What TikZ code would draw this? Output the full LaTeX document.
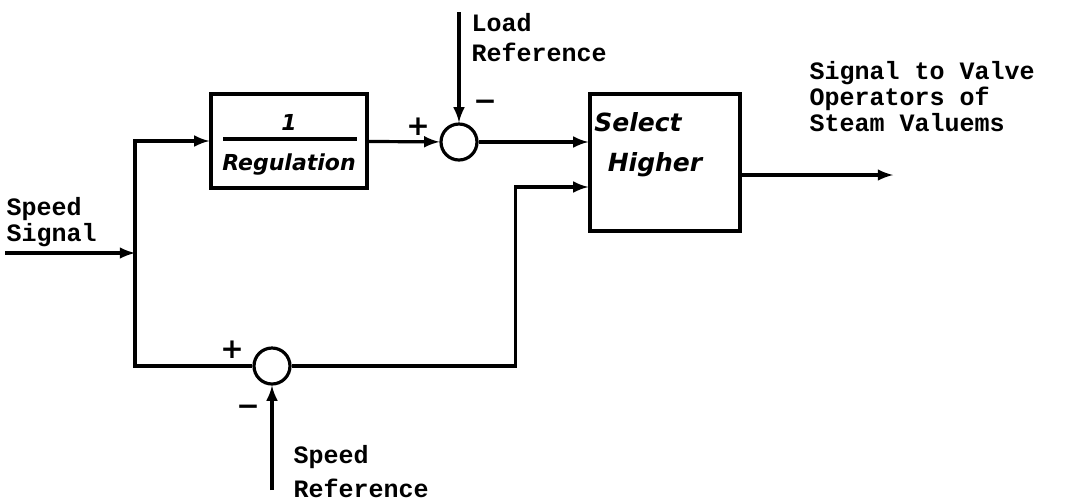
\documentclass[tikz,border=0pt]{standalone}
\usepackage{fontspec}
\setmonofont{Liberation Mono}
\newfontfamily\handfont{DejaVu Sans}
\usetikzlibrary{positioning}

\begin{document}
\begin{tikzpicture}[x=.5pt,y=-.5pt,>=latex,line width=1.6pt,
	blk/.style={draw,inner sep=0},
	sumpt/.style={draw,circle,minimum size=18pt,inner sep=0},
	txt/.style={font=\ttfamily\bfseries\fontsize{12.5}{13}\selectfont,align=left,anchor=north west,inner sep=0},
	hand/.style={font=\handfont\bfseries\itshape\fontsize{11}{13}\selectfont,inner sep=0},
	bighand/.style={hand,font=\handfont\bfseries\itshape\fontsize{12.5}{13}\selectfont},
	sgn/.style={font=\handfont\bfseries\fontsize{14}{14}\selectfont,inner sep=0}]
	\useasboundingbox(0,0)rectangle(1065,500);
	\node[blk,minimum width=78pt,minimum height=47pt](reg)at(289,141){};
	\node[hand](one)at(289,122){1};
	\node[hand](regtxt)at(289,165){Regulation};
	\draw(223,139)--(357,139);
	\node[sumpt](sum1)at(459,142){};
	\node[blk,minimum width=75pt,minimum height=68.5pt](sel)at(665,162.5){};
	\node[bighand](seltxt)at(638,122){Select};
	\node[bighand](higtxt)at(655,165){Higher};
	\node[sumpt](sum2)at(272,366){};
	\coordinate(in)at(5,253);
	\coordinate(br)at(135,253);
	\coordinate(lref)at(459,12);
	\coordinate(sref)at(272,490);
	\coordinate(out)at(893,175);
	\draw[->](in)--(br);
	\draw[->](br)|-(reg);
	\draw(br)|-(sum2);
	\draw[->](reg)--(sum1);
	\draw[->](lref)--(sum1);
	\draw[->](sum1)--(sum1-|sel.west);
	\draw[->](sref)--(sum2);
	\draw[->](sum2)-|([xshift=-36.5pt,yshift=-12.25pt]sel.west)--([yshift=-12.25pt]sel.west);
	\draw[->](sel.east|-out)--(out);
	\node[sgn](plus1)at(418,127){+};
	\node[sgn](minus1)at(485,105){−};
	\node[sgn](plus2)at(232,350){+};
	\node[sgn](minus2)at(248,410){−};
	\node[txt](loadtxt)at(470,12){Load\\[2pt]Reference};
	\node[txt](outtxt)at(808,60){Signal to Valve\\Operators of\\Steam Valuems};
	\node[txt](spdtxt)at(5,196){Speed\\Signal};
	\node[txt](sreftxt)at(292,444){Speed\\[4pt]Reference};
\end{tikzpicture}
\end{document}
